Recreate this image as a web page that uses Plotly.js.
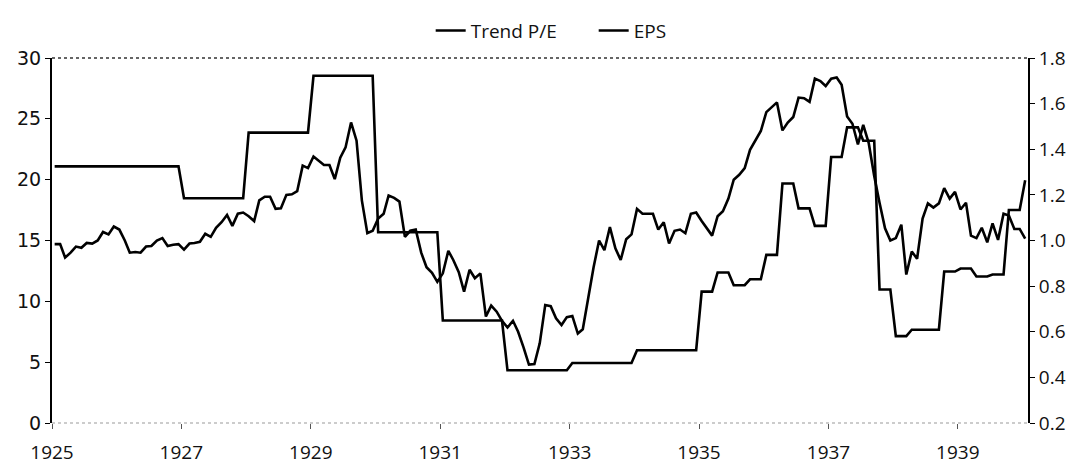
<!DOCTYPE html>
<html><head><meta charset="utf-8">
<script src="https://cdn.plot.ly/plotly-3.0.1.min.js"></script>
<style>html,body{margin:0;padding:0;background:#fff}#chart{width:1083px;height:465px}</style>
</head><body><div id="chart"></div>
<script>
const startYear = 1925;
const monthCount = 181;

const trendPE = [
  14.7, 14.7, 13.6, 14.0, 14.5, 14.4, 14.8, 14.75, 15.0, 15.7, 15.5, 16.15,
  15.9, 15.0, 14.0, 14.05, 14.0, 14.5, 14.55, 15.0, 15.2, 14.55, 14.65, 14.7,
  14.25, 14.75, 14.8, 14.9, 15.55, 15.3, 16.05, 16.5, 17.1, 16.2, 17.2, 17.3,
  17.0, 16.6, 18.3, 18.6, 18.6, 17.6, 17.65, 18.75, 18.8, 19.05, 21.15, 20.95,
  21.9, 21.55, 21.2, 21.2, 20.05, 21.8, 22.65, 24.7, 23.2, 18.3, 15.6, 15.8,
  16.8, 17.2, 18.7, 18.5, 18.2, 15.3, 15.8, 15.9, 14.0, 12.8, 12.35, 11.6,
  12.3, 14.15, 13.4, 12.4, 10.8, 12.6, 11.9, 12.3, 8.75, 9.65, 9.15, 8.4,
  7.85, 8.4, 7.5, 6.2, 4.8, 4.85, 6.55, 9.7, 9.6, 8.6, 8.05, 8.7,
  8.8, 7.35, 7.7, 10.3, 12.8, 15.0, 14.2, 16.1, 14.35, 13.4, 15.1, 15.5,
  17.6, 17.2, 17.2, 17.2, 15.9, 16.5, 14.75, 15.8, 15.9, 15.6, 17.2, 17.3,
  16.6, 16.0, 15.4, 17.0, 17.4, 18.45, 20.0, 20.4, 20.95, 22.45, 23.2, 24.0,
  25.55, 25.95, 26.35, 24.05, 24.7, 25.15, 26.75, 26.7, 26.4, 28.3, 28.1, 27.7,
  28.3, 28.4, 27.8, 25.2, 24.6, 22.9, 24.5, 23.0, 20.3, 18.1, 16.0, 15.0,
  15.2, 16.3, 12.2, 14.1, 13.5, 16.8, 18.05, 17.7, 18.05, 19.3, 18.45, 19.0,
  17.55, 18.1, 15.4, 15.2, 16.05, 14.85, 16.4, 15.05, 17.2, 17.05, 15.95, 15.95,
  15.15
];

const epsStart = ['1925-01','1927-01','1928-01','1929-01','1930-01','1931-01','1932-01','1933-01','1934-01',
  '1935-01','1935-04','1935-07','1935-10','1936-01','1936-04','1936-07','1936-10',
  '1937-01','1937-04','1937-07','1937-10','1938-01','1938-04','1938-10',
  '1939-01','1939-04','1939-07','1939-10','1940-01'];
const epsValue = [1.325, 1.185, 1.473, 1.722, 1.036, 0.649, 0.431, 0.463, 0.519,
  0.776, 0.86, 0.804, 0.83, 0.937, 1.25, 1.141, 1.064,
  1.366, 1.496, 1.437, 0.785, 0.581, 0.609, 0.864,
  0.877, 0.842, 0.851, 1.134, 1.264];

const yTicksLeft = [0, 5, 10, 15, 20, 25, 30];
const yTicksRight = [0.2, 0.4, 0.6, 0.8, 1.0, 1.2, 1.4, 1.6, 1.8];

const months = [];
for (let i = 0; i < monthCount; i++) {
  const y = startYear + Math.floor(i / 12), m = i % 12 + 1;
  months.push(y + '-' + String(m).padStart(2, '0') + '-16');
}
const eps = months.map(d => {
  const ym = d.slice(0, 7);
  let v = epsValue[0];
  for (let k = 0; k < epsStart.length; k++) if (epsStart[k] <= ym) v = epsValue[k];
  return v;
});

const fam = '"Open Sans", "Noto Sans", sans-serif';
const font = {family: fam, size: 19, color: '#111'};
const leftFont = {family: '"DejaVu Sans", sans-serif', size: 19, color: '#111'};

const traces = [
  {x: months, y: trendPE, name: 'Trend P/E', type: 'scatter', mode: 'lines',
   line: {color: '#000', width: 2.6}, yaxis: 'y'},
  {x: months, y: eps, name: 'EPS', type: 'scatter', mode: 'lines',
   line: {color: '#000', width: 2.6}, yaxis: 'y2'}
];

const layout = {
  width: 1083, height: 465,
  margin: {l: 52, r: 55, t: 44, b: 42},
  paper_bgcolor: '#fff', plot_bgcolor: '#fff',
  font: font,
  showlegend: true,
  legend: {orientation: 'h', x: 0.388, xanchor: 'left', y: 1.075, yanchor: 'middle',
           entrywidth: 118, entrywidthmode: 'pixels',
           font: {family: fam, size: 19, color: '#111'}, bgcolor: 'rgba(0,0,0,0)'},
  xaxis: {type: 'date', range: ['1925-01-01', '1940-02-01'], tick0: '1925-01-01', dtick: 'M24',
          tickformat: '%Y', ticks: 'outside', ticklen: 5, tickwidth: 1, tickcolor: '#555',
          ticklabelstandoff: 7,
          showline: false, showgrid: false, zeroline: false, tickfont: font},
  yaxis: {range: [0, 30], tickvals: yTicksLeft, ticks: 'outside', ticklen: 5, tickcolor: '#000',
          showline: true, linecolor: '#000', linewidth: 2, showgrid: false, zeroline: false,
          tickfont: leftFont},
  yaxis2: {range: [0.2, 1.8], tickvals: yTicksRight, tickformat: '.1f', overlaying: 'y', side: 'right',
           ticks: 'outside', ticklen: 5, tickcolor: '#000', showline: true, linecolor: '#000', linewidth: 2,
           showgrid: false, zeroline: false, tickfont: font},
  shapes: [
    {type: 'line', xref: 'paper', yref: 'paper', x0: 0, x1: 1, y0: 0, y1: 0,
     line: {color: '#999', width: 1, dash: 'dot'}},
    {type: 'line', xref: 'paper', yref: 'paper', x0: 0, x1: 1, y0: 1, y1: 1,
     line: {color: '#333', width: 1.5, dash: 'dot'}}
  ]
};

Plotly.newPlot('chart', traces, layout, {displayModeBar: false, staticPlot: true});
</script>
</body></html>
